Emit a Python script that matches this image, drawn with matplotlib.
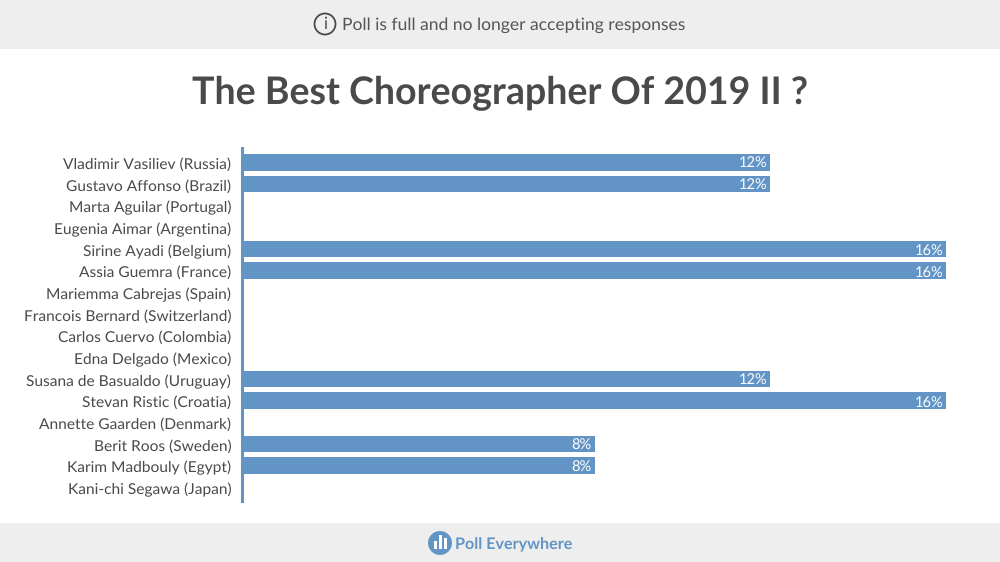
import matplotlib
matplotlib.use("Agg")
import matplotlib.pyplot as plt
from matplotlib.patches import Circle, Rectangle
from matplotlib.transforms import ScaledTranslation

names = ["Vladimir Vasiliev (Russia)", "Gustavo Affonso (Brazil)", "Marta Aguilar (Portugal)",
         "Eugenia Aimar (Argentina)", "Sirine Ayadi (Belgium)", "Assia Guemra (France)",
         "Mariemma Cabrejas (Spain)", "Francois Bernard (Switzerland)", "Carlos Cuervo (Colombia)",
         "Edna Delgado (Mexico)", "Susana de Basualdo (Uruguay)", "Stevan Ristic (Croatia)",
         "Annette Gaarden (Denmark)", "Berit Roos (Sweden)", "Karim Madbouly (Egypt)",
         "Kani-chi Segawa (Japan)"]
values = [12, 12, 0, 0, 16, 16, 0, 0, 0, 0, 12, 16, 0, 8, 8, 0]

blue = "#6294c6"
grey = "#4a4a4a"
band = "#eeeeee"
plt.rcParams["font.family"] = ["Lato", "DejaVu Sans"]
plt.rcParams["text.hinting"] = "no_hinting"

fig = plt.figure(figsize=(10, 5.62), dpi=100, facecolor="white")

# page furniture in pixel coordinates
bg = fig.add_axes([0, 0, 1, 1])
bg.set_xlim(0, 1000)
bg.set_ylim(562, 0)
bg.axis("off")
bg.add_patch(Rectangle((0, 0), 1000, 49, color=band, lw=0))
bg.add_patch(Rectangle((0, 523), 1000, 39, color=band, lw=0))
bg.add_patch(Circle((325, 24), 10.5, fill=False, ec=grey, lw=1.3))
bg.text(325, 24.5, "i", ha="center", va="center", fontsize=12, color=grey)
bg.text(342, 25, "Poll is full and no longer accepting responses", ha="left", va="center",
        fontsize=12.6, color="#555555")
bg.text(500, 93, "The Best Choreographer Of 2019 II ?", ha="center", va="center",
        fontsize=27, fontweight="bold", color=grey)

# logo
bg.add_patch(Circle((440, 543), 12, color=blue, lw=0))
bg.add_patch(Rectangle((433.5, 541), 3.5, 8, color="white", lw=0))
bg.add_patch(Rectangle((438.5, 535), 3.5, 14, color="white", lw=0))
bg.add_patch(Rectangle((443.5, 538), 3.5, 11, color="white", lw=0))
bg.text(455, 545, "Poll Everywhere", ha="left", va="center", fontsize=11.6,
        fontweight="bold", color=blue)

# chart
ax = fig.add_axes([243 / 1000, 1 - 501 / 562, 703 / 1000, 353 / 562])
ax.patch.set_alpha(0)

# spine position resets the ticks, so do it before the labels
for s in ["top", "right", "bottom"]:
    ax.spines[s].set_visible(False)
ax.spines["left"].set_color(blue)
ax.spines["left"].set_linewidth(2.2)
ax.spines["left"].set_position(("outward", 0.5))

pos = list(range(len(names)))
ax.barh(pos, values, height=0.78, color=blue)
ax.set_xlim(0, 16)
ax.set_ylim(15.63, -0.66)
ax.set_yticks(pos)
ax.set_yticklabels(names, fontsize=11.15, color=grey)
ax.tick_params(axis="y", length=0, pad=8)
ax.set_xticks([])

# nudge labels down a pixel
nudge = ScaledTranslation(0, -1 / 100, fig.dpi_scale_trans)
for lbl in ax.get_yticklabels():
    lbl.set_transform(lbl.get_transform() + nudge)

for i, v in enumerate(values):
    if v > 0:
        ax.text(v - 0.06, i + 0.08, f"{v}%", ha="right", va="center", fontsize=10.5, color="white")

fig.savefig("out.png", dpi=100)
